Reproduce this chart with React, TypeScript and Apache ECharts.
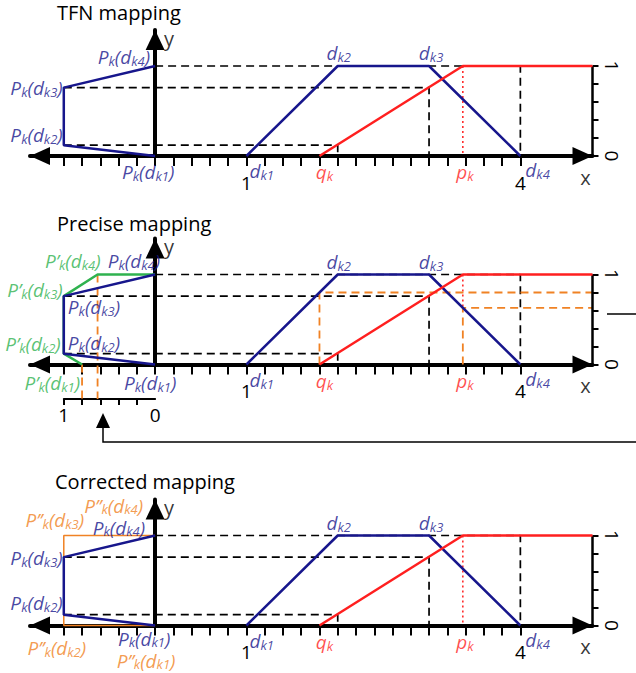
import React, { useEffect, useRef } from 'react';
import * as echarts from 'echarts';

// ---------------- data ----------------
const dk = [1, 2, 3, 4]; // d_k1 .. d_k4
const muTFN = [0, 1, 1, 0]; // TFN membership at d_k1..d_k4
const qk = 1.8;
const pk = 3.37;
const Pk = [0, 0.12, 0.76, 1]; // P_k(d_k1..d_k4)
const muAtQ = 0.8; // membership at q_k
const muAtP = 0.63; // membership at p_k
const muPrecise = [muAtQ, 1, 1, muAtP]; // P'_k
const muCorrected = [0, 1, 1, 0]; // P''_k (horizontal)
const PCorrected = [0, 0, 1, 1]; // P''_k (vertical)
const xTickValues = [-1, -0.8, -0.6, -0.4, -0.2, 0, 0.2, 0.4, 0.6, 0.8, 1, 1.2, 1.4, 1.6, 1.8, 2, 2.2, 2.4, 2.6, 2.8, 3, 3.2, 3.4, 3.6, 3.8, 4];
const xTickLabels = [1, 4];
const rightTickValues = [0, 0.2, 0.4, 0.6, 0.8, 1];
const rightTickLabels = [0, 1];
const subTickValues = [-1, -0.8, -0.6, -0.4, -0.2];
const subTickLabels = [-1, 0];
const titles = ['TFN mapping', 'Precise mapping', 'Corrected mapping'];

// ---------------- layout / style ----------------
const FONT = "'Open Sans', sans-serif";
const X_MIN = -1.37;
const X_MAX = 4.79;
const Y_MAX = 1.4;
const GRID_LEFT = 30;
const GRID_RIGHT_PX = 592.5;
const AXIS_Y = [156, 364.5, 625.5];
const PX_PER_Y = 90;
const SUB_AXIS_Y = 399;
const C = { n: '#17168c', r: '#ff1f1f', g: '#2fb24f', o: '#f08224', k: '#000000' };

const pxOfX = (x: number) => GRID_LEFT + ((x - X_MIN) / (X_MAX - X_MIN)) * (GRID_RIGHT_PX - GRID_LEFT);
const SUB_Y_VAL = -(SUB_AXIS_Y - AXIS_Y[1]) / PX_PER_Y;

const rich: any = {};
(Object.keys(C) as (keyof typeof C)[]).forEach((k) => {
  rich[k + 'M'] = { color: C[k], fontFamily: FONT, fontStyle: 'italic', fontSize: 19, lineHeight: 21, verticalAlign: 'middle' };
  rich[k + 'S'] = { color: C[k], fontFamily: FONT, fontStyle: 'italic', fontSize: 13, verticalAlign: 'bottom' };
  // compact variant for tightly stacked labels
  rich[k + 'm'] = { color: C[k], fontFamily: FONT, fontStyle: 'italic', fontSize: 19, lineHeight: 19, verticalAlign: 'middle' };
  rich[k + 's'] = { color: C[k], fontFamily: FONT, fontStyle: 'italic', fontSize: 13, verticalAlign: 'bottom' };
});
rich.up = { color: '#000', fontFamily: FONT, fontSize: 20, lineHeight: 18 };

const T = (c: string, parts: [string, boolean][], compact = false) =>
  parts.map(([t, s]) => `{${c}${s ? (compact ? 's' : 'S') : compact ? 'm' : 'M'}|${t}}`).join('');
const Plab = (c: string, primes: string, i: number, compact = false) =>
  T(c, [[`P${primes}`, false], ['k', true], ['(d', false], [`k${i}`, true], [')', false]], compact);
const dlab = (i: number) => T('n', [['d', false], [`k${i}`, true]]);

function seg(panel: number, data: number[][], color: string, width: number, type: any, z = 2) {
  return {
    type: 'line', xAxisIndex: panel, yAxisIndex: 2 * panel, data, symbol: 'none', showSymbol: false,
    clip: false, silent: true, z, animation: false,
    lineStyle: { color, width, type, cap: 'butt' },
  };
}

type Lab = { at: number[]; text: string; align: string; off: number[] };
function labels(panel: number, items: Lab[]) {
  return {
    type: 'scatter', xAxisIndex: panel, yAxisIndex: 2 * panel, symbolSize: 0, clip: false, silent: true, z: 6,
    data: items.map((it) => ({
      value: it.at,
      label: { show: true, position: 'inside', formatter: it.text, align: it.align, verticalAlign: 'middle', offset: it.off, rich },
    })),
  };
}

const DASH = [8, 5];

function panelSeries(p: number): any[] {
  const s: any[] = [];
  // black dashed guides
  s.push(seg(p, [[-muTFN[3], Pk[3]], [dk[3], Pk[3]], [dk[3], 0]], C.k, 1.7, DASH, 1));
  s.push(seg(p, [[-muTFN[2], Pk[2]], [dk[2], Pk[2]], [dk[2], 0]], C.k, 1.7, DASH, 1));
  s.push(seg(p, [[-muTFN[1], Pk[1]], [dk[1], Pk[1]], [dk[1], 0]], C.k, 1.7, DASH, 1));
  // right frame line
  s.push(seg(p, [[X_MAX, 0], [X_MAX, 1]], C.k, 2.5, 'solid', 3));
  // TFN trapezoid
  s.push(seg(p, dk.map((d, i) => [d, muTFN[i]]), C.n, 2.5, 'solid', 3));
  // red mapping
  s.push(seg(p, [[qk, 0], [pk, 1], [X_MAX, 1]], C.r, 2.5, 'solid', 4));
  // red dotted at p_k
  s.push(seg(p, [[pk, 1], [pk, p === 1 ? muAtP : 0]], C.r, 1.5, [2, 3], 2));
  if (p === 1) {
    s.push(seg(p, [[qk, 0], [qk, muAtQ], [X_MAX, muAtQ]], C.o, 1.8, DASH, 2));
    s.push(seg(p, [[pk, 0], [pk, muAtP], [X_MAX, muAtP]], C.o, 1.8, DASH, 2));
    s.push(seg(p, [[-muAtQ, 0], [-muAtQ, SUB_Y_VAL]], C.o, 1.8, DASH, 2));
    s.push(seg(p, [[-muAtP, 1], [-muAtP, SUB_Y_VAL]], C.o, 1.8, DASH, 2));
    s.push(seg(p, [...dk.map((_, i) => [-muPrecise[i], Pk[i]]), [0, 1]], C.g, 2.5, 'solid', 3));
  }
  if (p === 2) {
    s.push(seg(p, dk.map((_, i) => [-muCorrected[i], PCorrected[i]]), C.o, 1.5, 'solid', 2));
  }
  // left mapped curve
  s.push(seg(p, dk.map((_, i) => [-muTFN[i], Pk[i]]), C.n, 2.5, 'solid', 4));

  const L: Lab[] = [
    { at: [dk[0], 0], text: dlab(1), align: 'left', off: [3, 15] },
    { at: [qk, 0], text: T('r', [['q', false], ['k', true]]), align: 'center', off: [5, 16] },
    { at: [pk, 0], text: T('r', [['p', false], ['k', true]]), align: 'center', off: [2, 16] },
    { at: [dk[3], 0], text: dlab(4), align: 'left', off: [5, 14] },
    { at: [dk[1], 1], text: dlab(2), align: 'center', off: [1, -13] },
    { at: [dk[2], 1], text: dlab(3), align: 'center', off: [2, -13] },
    { at: [X_MAX, 0], text: '{up|x}', align: 'center', off: [-7, 21] },
    { at: [0, Y_MAX], text: '{up|y}', align: 'left', off: [9, 8] },
  ];
  const lp = (i: number) => [-muTFN[i], Pk[i]];
  if (p === 0) {
    L.push({ at: lp(3), text: Plab('n', '', 4), align: 'right', off: [-5, -9] });
    L.push({ at: lp(2), text: Plab('n', '', 3), align: 'right', off: [-1, 0] });
    L.push({ at: lp(1), text: Plab('n', '', 2), align: 'right', off: [-1, -10] });
    L.push({ at: lp(0), text: Plab('n', '', 1), align: 'center', off: [-7, 16] });
  } else if (p === 1) {
    const gp = (i: number) => [-muPrecise[i], Pk[i]];
    L.push({ at: gp(3), text: Plab('g', '’', 4), align: 'right', off: [3, -14] });
    L.push({ at: lp(3), text: Plab('n', '', 4), align: 'right', off: [5, -14] });
    L.push({ at: gp(2), text: Plab('g', '’', 3), align: 'right', off: [-1, -6] });
    L.push({ at: lp(2), text: Plab('n', '', 3), align: 'left', off: [4, 11] });
    L.push({ at: gp(1), text: Plab('g', '’', 2), align: 'right', off: [-3, -10] });
    L.push({ at: lp(1), text: Plab('n', '', 2), align: 'left', off: [4, -11] });
    L.push({ at: gp(0), text: Plab('g', '’', 1), align: 'right', off: [-2, 18] });
    L.push({ at: lp(0), text: Plab('n', '', 1), align: 'center', off: [-5, 18] });
  } else {
    const op = (i: number) => [-muCorrected[i], PCorrected[i]];
    L.push({ at: op(3), text: Plab('o', '’’', 4, true), align: 'right', off: [-12, -30] });
    L.push({ at: op(2), text: Plab('o', '’’', 3), align: 'center', off: [-9, -16] });
    L.push({ at: lp(3), text: Plab('n', '', 4, true), align: 'right', off: [-10, -8] });
    L.push({ at: lp(2), text: Plab('n', '', 3), align: 'right', off: [-1, 1] });
    L.push({ at: lp(1), text: Plab('n', '', 2), align: 'right', off: [-1, -12] });
    L.push({ at: op(1), text: Plab('o', '’’', 2), align: 'center', off: [-7, 22] });
    L.push({ at: lp(0), text: Plab('n', '', 1, true), align: 'center', off: [-11, 13] });
    L.push({ at: op(0), text: Plab('o', '’’', 1, true), align: 'center', off: [-9, 35] });
  }
  s.push(labels(p, L));
  return s;
}

function buildOption(): any {
  const grid: any[] = AXIS_Y.map((a) => ({
    left: GRID_LEFT, width: GRID_RIGHT_PX - GRID_LEFT, top: a - Y_MAX * PX_PER_Y, height: Y_MAX * PX_PER_Y,
    containLabel: false, outerBoundsMode: 'none',
  }));
  grid.push({ left: pxOfX(-1), width: pxOfX(0) - pxOfX(-1), top: SUB_AXIS_Y - 10, height: 10, containLabel: false, outerBoundsMode: 'none' });

  const xAxis: any[] = AXIS_Y.map((_, i) => ({
    type: 'value', gridIndex: i, min: X_MIN, max: X_MAX, position: 'bottom',
    axisLine: { show: true, onZero: true, symbol: ['triangle', 'triangle'], symbolSize: [18, 20], symbolOffset: [10, -10], lineStyle: { color: '#000', width: 4 } },
    axisTick: { show: true, customValues: xTickValues, length: 10, inside: false, lineStyle: { color: '#000', width: 2 } },
    axisLabel: { show: true, customValues: xTickLabels, margin: 17, color: '#000', fontFamily: FONT, fontSize: 19 },
    splitLine: { show: false },
  }));
  xAxis.push({
    type: 'value', gridIndex: 3, min: -1, max: 0, position: 'bottom',
    axisLine: { show: true, onZero: false, lineStyle: { color: '#000', width: 2 } },
    axisTick: { show: true, customValues: subTickValues, length: 6, inside: false, lineStyle: { color: '#000', width: 2 } },
    axisLabel: { show: true, customValues: subTickLabels, formatter: (v: number) => String(Math.abs(v)), margin: 6, color: '#000', fontFamily: FONT, fontSize: 19 },
    splitLine: { show: false },
  });

  const yAxis: any[] = [];
  AXIS_Y.forEach((_, i) => {
    yAxis.push({
      type: 'value', gridIndex: i, min: 0, max: Y_MAX, position: 'left',
      axisLine: { show: true, onZero: true, symbol: ['none', 'triangle'], symbolSize: [19, 20], symbolOffset: [0, -10], lineStyle: { color: '#000', width: 4 } },
      axisTick: { show: false }, axisLabel: { show: false }, splitLine: { show: false },
    });
    yAxis.push({
      type: 'value', gridIndex: i, min: 0, max: Y_MAX, position: 'right',
      axisLine: { show: false, onZero: false },
      axisTick: { show: true, customValues: rightTickValues, length: 6, inside: false, lineStyle: { color: '#000', width: 2 } },
      axisLabel: { show: true, customValues: rightTickLabels, rotate: -90, margin: 10, color: '#000', fontFamily: FONT, fontSize: 19 },
      splitLine: { show: false },
    });
  });
  yAxis.push({ type: 'value', gridIndex: 3, show: false, min: 0, max: 1 });

  const series: any[] = [];
  [0, 1, 2].forEach((p) => series.push(...panelSeries(p)));

  const titleY = [16, 227, 485];
  const graphic: any[] = titles.map((t, i) => ({
    type: 'text', left: 57 - (i === 2 ? 2 : 0), top: titleY[i] - 14, silent: true,
    style: { text: t, fill: '#000', font: `20px ${FONT}` },
  }));
  // connector from the right side back to the sub-axis
  graphic.push({ type: 'line', silent: true, shape: { x1: 607, y1: 314, x2: 636, y2: 314 }, style: { stroke: '#000', lineWidth: 1.5 } });
  graphic.push({ type: 'polyline', silent: true, shape: { points: [[103, 428], [103, 442], [636, 442]] }, style: { stroke: '#000', lineWidth: 1.5, fill: 'none' } });
  graphic.push({ type: 'polygon', silent: true, shape: { points: [[103, 413], [96, 428], [110, 428]] }, style: { fill: '#000' } });

  return { animation: false, backgroundColor: '#fff', grid, xAxis, yAxis, series, graphic };
}

export default function App() {
  const ref = useRef<HTMLDivElement>(null);
  useEffect(() => {
    if (!ref.current) return;
    const chart = echarts.init(ref.current, undefined, { renderer: 'svg' });
    chart.setOption(buildOption());
    return () => chart.dispose();
  }, []);
  return <div ref={ref} style={{ position: 'absolute', left: 0, top: 0, width: 636, height: 673 }} />;
}
